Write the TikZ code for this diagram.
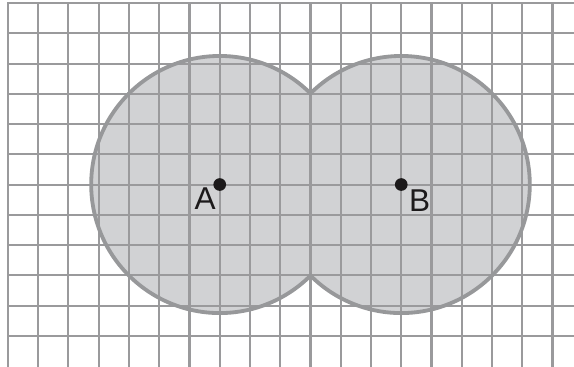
\documentclass[tikz,border=0pt]{standalone}
\usepackage{fontspec}
\setmainfont{Liberation Sans}
\usepackage{tikz}
\usetikzlibrary{positioning}
\definecolor{gridgray}{HTML}{9A9A9C}
\definecolor{diskgray}{HTML}{D1D2D4}
\definecolor{rimgray}{HTML}{97989A}
\definecolor{dotblack}{HTML}{1C1A1B}

\begin{document}
\begin{tikzpicture}

\tikzset{gridline/.style={draw=gridgray, line width=1.9pt, line cap=rect}}
\tikzset{rim/.style={draw=rimgray, line width=3.6pt}}
\tikzset{pointlabel/.style={inner sep=0pt, text=dotblack, font=\fontsize{29.7}{30}\selectfont}}

\useasboundingbox (-0.264,-1.03) rectangle (18.711,11.1);

\coordinate (A) at (7,5);
\coordinate (B) at (13,5);
\pgfmathsetmacro{\rad}{4.25}
\pgfmathsetmacro{\ang}{acos(3/\rad)}

% the two discs, filled first
\fill[diskgray] (A) ++(\ang:\rad) arc[start angle=\ang, end angle=360-\ang, radius=\rad]
  arc[start angle=-180+\ang, end angle=180-\ang, radius=\rad] -- cycle;

\foreach \x in {0,...,18}
  \draw[gridline] (\x,-1.1) -- (\x,11);
\foreach \y in {0,...,11}
  \draw[gridline] (0,\y) -- (18.8,\y);

\draw[rim] (A) ++(\ang:\rad) arc[start angle=\ang, end angle=360-\ang, radius=\rad]
  arc[start angle=-180+\ang, end angle=180-\ang, radius=\rad] -- cycle;

\fill[dotblack] (A) circle (0.21);
\fill[dotblack] (B) circle (0.21);

\draw (A) node[pointlabel, below left=0.11cm and 0.13cm] (labA) {A};
\draw (B) node[pointlabel, below right=0.16cm and 0.25cm] (labB) {B};

\end{tikzpicture}
\end{document}
